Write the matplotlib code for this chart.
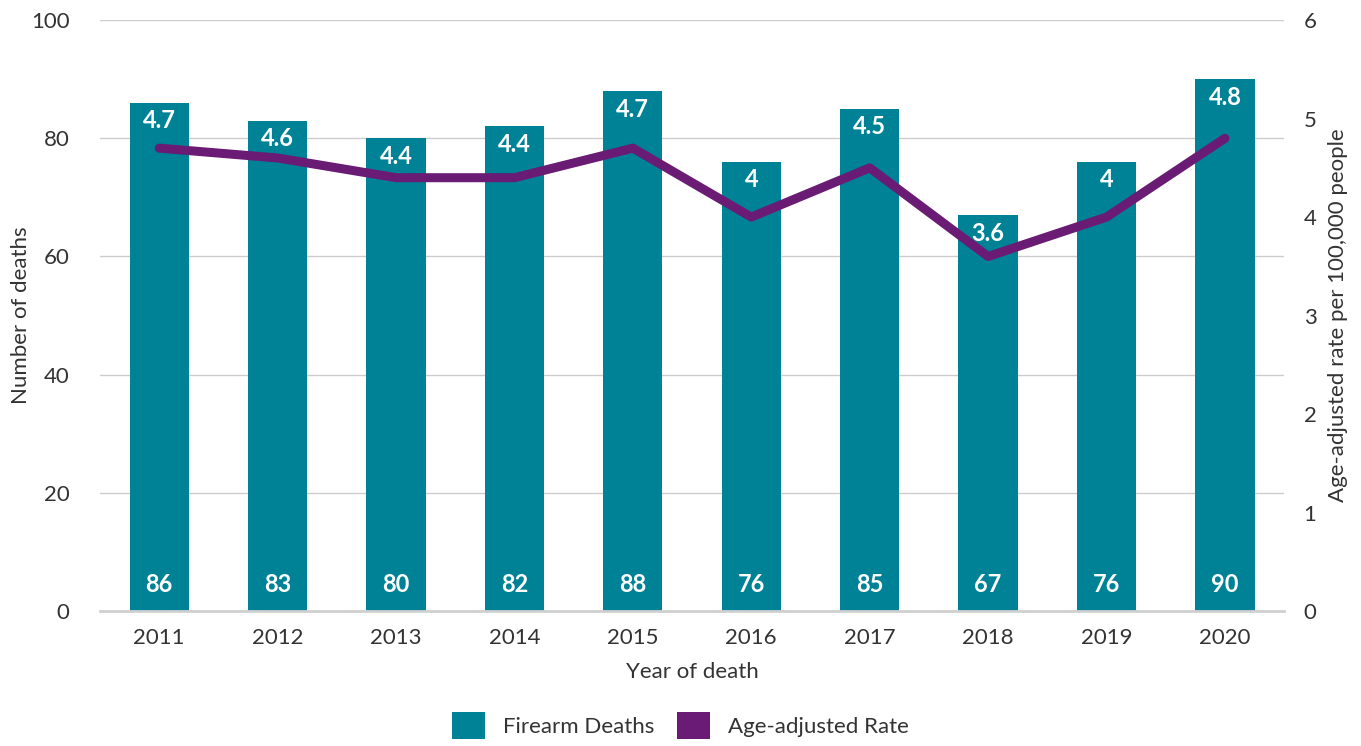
import matplotlib.pyplot as plt
from matplotlib.patches import Patch

plt.rcParams['font.family'] = ['Lato', 'DejaVu Sans']

# datos
years = ['2011', '2012', '2013', '2014', '2015', '2016', '2017', '2018', '2019', '2020']
deaths = [86, 83, 80, 82, 88, 76, 85, 67, 76, 90]
rates = [4.7, 4.6, 4.4, 4.4, 4.7, 4.0, 4.5, 3.6, 4.0, 4.8]
rate_labels = ['4.7', '4.6', '4.4', '4.4', '4.7', '4', '4.5', '3.6', '4', '4.8']

teal = '#008296'
purple = '#6a1b73'
txt = '#333333'

fig = plt.figure(figsize=(13.61, 7.46), dpi=100)
ax = fig.add_axes([0.0735, 0.181, 0.87, 0.792])
ax2 = ax.twinx()

x = range(len(years))
ax.bar(x, deaths, width=0.5, color=teal, zorder=2)
ax.set_xlim(-0.5, 9.5)
ax.set_ylim(0, 100)
ax.set_yticks([0, 20, 40, 60, 80, 100])
ax.grid(axis='y', color='#cccccc', linewidth=1, zorder=0)
ax.set_axisbelow(True)

for i, d in enumerate(deaths):
    ax.annotate(str(d), (i, 0), xytext=(0, 19), textcoords='offset points',
                ha='center', va='center', color='white', fontsize=17, fontweight='bold', zorder=4)
    ax.annotate(rate_labels[i], (i, d), xytext=(0, -13), textcoords='offset points',
                ha='center', va='center', color='white', fontsize=17, fontweight='bold', zorder=4)

ax2.plot(x, rates, color=purple, linewidth=6.5, solid_capstyle='round', solid_joinstyle='round', zorder=3)
ax2.set_ylim(0, 6)
ax2.set_yticks([0, 1, 2, 3, 4, 5, 6])

for a in (ax, ax2):
    for s in a.spines.values():
        s.set_visible(False)
    a.tick_params(length=0, labelsize=16, colors=txt)
ax.spines['bottom'].set_visible(True)
ax.spines['bottom'].set_color('#d0d0d0')
ax.spines['bottom'].set_linewidth(2)
ax.set_xticks(list(x))
ax.set_xticklabels(years)
ax.tick_params(axis='x', pad=12)
ax2.tick_params(axis='y', pad=14)
ax.tick_params(axis='y', pad=22)

ax.set_xlabel('Year of death', fontsize=16, color=txt, labelpad=10)
ax.set_ylabel('Number of deaths', fontsize=16, color=txt, labelpad=0)
ax2.set_ylabel('Age-adjusted rate per 100,000 people', fontsize=16, color=txt, labelpad=8)

handles = [Patch(facecolor=teal, label='Firearm Deaths'),
           Patch(facecolor=purple, label='Age-adjusted Rate')]
fig.legend(handles=handles, loc='lower center', bbox_to_anchor=(0.5, -0.018), ncol=2,
           frameon=False, fontsize=16, handlelength=1.5, handleheight=1.5,
           columnspacing=1.0, handletextpad=0.8, labelcolor=txt)

fig.savefig('out.png', dpi=100)
